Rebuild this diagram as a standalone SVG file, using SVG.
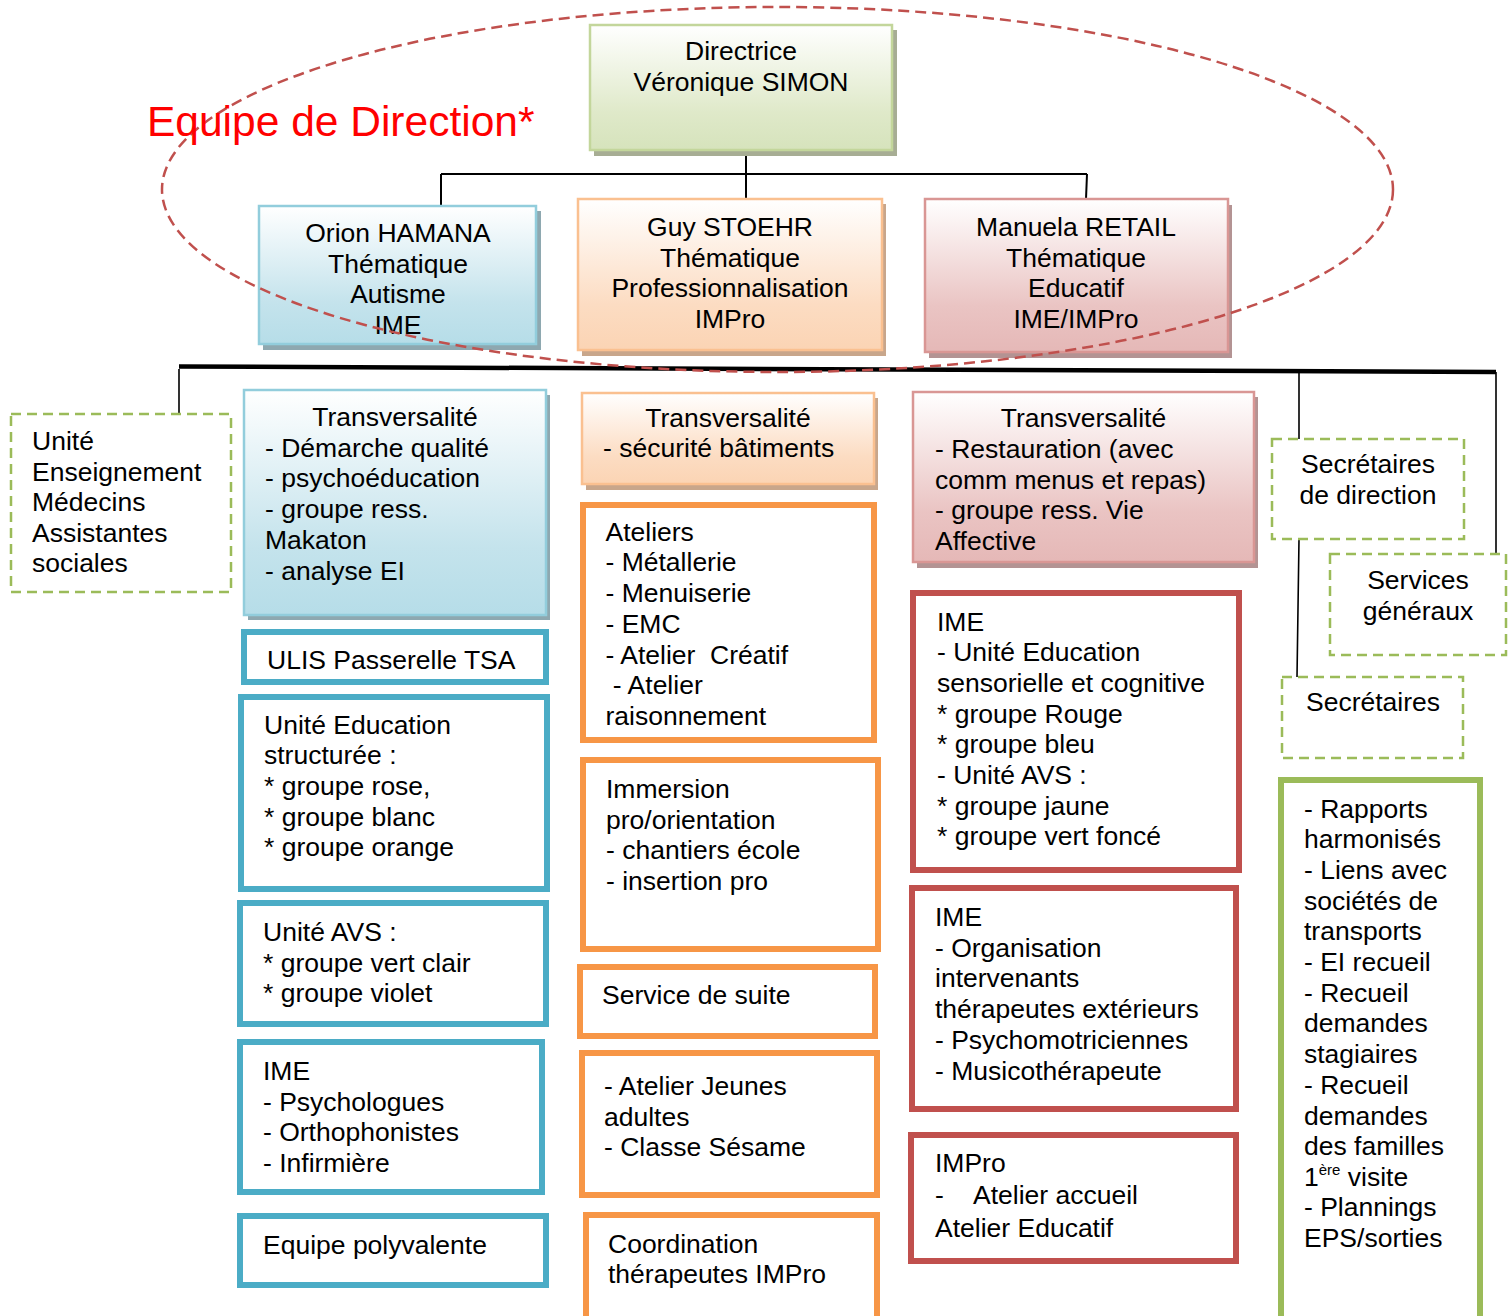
<svg xmlns="http://www.w3.org/2000/svg" width="1509" height="1316" viewBox="0 0 1509 1316">
  <defs>
    <linearGradient id="gGreen" x1="0" y1="0" x2="0" y2="1">
      <stop offset="0" stop-color="#ffffff"/>
      <stop offset="0.7" stop-color="#dfe9c9"/>
      <stop offset="1" stop-color="#d6e3bc"/>
    </linearGradient>
    <linearGradient id="gBlue" x1="0" y1="0" x2="0" y2="1">
      <stop offset="0" stop-color="#ffffff"/>
      <stop offset="0.7" stop-color="#c4e3ec"/>
      <stop offset="1" stop-color="#b6dde8"/>
    </linearGradient>
    <linearGradient id="gOrange" x1="0" y1="0" x2="0" y2="1">
      <stop offset="0" stop-color="#ffffff"/>
      <stop offset="0.7" stop-color="#fcdcc2"/>
      <stop offset="1" stop-color="#fbd4b4"/>
    </linearGradient>
    <linearGradient id="gPink" x1="0" y1="0" x2="0" y2="1">
      <stop offset="0" stop-color="#ffffff"/>
      <stop offset="0.7" stop-color="#eac4c3"/>
      <stop offset="1" stop-color="#e5b8b7"/>
    </linearGradient>
    <style>
      .t { font-family: "Liberation Sans", Arial, sans-serif; font-size: 26.5px; fill: #000; }
      .c { text-anchor: middle; }
      .sup { font-size: 15px; }
      .dash { fill: #fff; stroke: #9bbb59; stroke-width: 2.5; stroke-dasharray: 10 6; }
      .bl { fill: #fff; stroke: #4bacc6; stroke-width: 6; }
      .or { fill: #fff; stroke: #f79646; stroke-width: 6; }
      .rd { fill: #fff; stroke: #c0504d; stroke-width: 6; }
      .gr { fill: #fff; stroke: #9bbb59; stroke-width: 6; }
      .hGreen { fill: url(#gGreen); stroke: #c3d69b; stroke-width: 2.5; }
      .hBlue { fill: url(#gBlue); stroke: #92cddc; stroke-width: 2.5; }
      .hOrange { fill: url(#gOrange); stroke: #fac090; stroke-width: 2.5; }
      .hPink { fill: url(#gPink); stroke: #d99694; stroke-width: 2.5; }
      .shGreen { fill: #a7ad94; }
      .shBlue { fill: #8ea8b0; }
      .shOrange { fill: #c8a68b; }
      .shPink { fill: #b39393; }
      .ln { stroke: #000; stroke-width: 2; fill: none; }
      .thin { stroke: #000; stroke-width: 1.6; fill: none; }
      .thick { stroke: #000; stroke-width: 4.5; fill: none; }
    </style>
  </defs>
  <rect width="1509" height="1316" fill="#ffffff"/>

  <!-- links between the boxes -->
  <g id="connectors">
    <path class="ln" d="M746 150 V174 M441 174 H1087 M441 174 V206 M746 174 V199 M1087 174 L1086 199"/>
    <path class="thick" d="M179 366.5 L1496 372"/>
    <path class="thin" d="M179 369 V414 M1299 372 V439 M1496 372 V554 M1299 539 L1297 677"/>
  </g>

  <!-- management team -->
  <g id="directrice">
    <rect class="shGreen" x="594" y="30" width="303" height="126"/>
    <rect class="hGreen" x="590" y="25" width="302" height="125"/>
    <text class="t c" x="741" y="60">Directrice<tspan x="741" dy="30.7">Véronique SIMON</tspan></text>
  </g>
  <g id="hamana">
    <rect class="shBlue" x="263" y="211" width="278" height="139"/>
    <rect class="hBlue" x="259" y="206" width="277" height="138"/>
    <text class="t c" x="398" y="242">Orion HAMANA<tspan x="398" dy="30.5">Thématique</tspan><tspan x="398" dy="30.5">Autisme</tspan><tspan x="398" dy="30.5">IME</tspan></text>
  </g>
  <g id="stoehr">
    <rect class="shOrange" x="582" y="204" width="304" height="152"/>
    <rect class="hOrange" x="578" y="199" width="304" height="151"/>
    <text class="t c" x="730" y="236">Guy STOEHR<tspan x="730" dy="30.5">Thématique</tspan><tspan x="730" dy="30.5">Professionnalisation</tspan><tspan x="730" dy="30.5">IMPro</tspan></text>
  </g>
  <g id="retail">
    <rect class="shPink" x="929" y="205" width="303" height="153"/>
    <rect class="hPink" x="925" y="199" width="303" height="153"/>
    <text class="t c" x="1076" y="236">Manuela RETAIL<tspan x="1076" dy="30.5">Thématique</tspan><tspan x="1076" dy="30.5">Educatif</tspan><tspan x="1076" dy="30.5">IME/IMPro</tspan></text>
  </g>

  <!-- side services -->
  <g id="unite-enseignement">
    <rect class="dash" x="11" y="414" width="220" height="178"/>
    <text class="t" x="32" y="450">Unité<tspan x="32" dy="30.6">Enseignement</tspan><tspan x="32" dy="30.6">Médecins</tspan><tspan x="32" dy="30.6">Assistantes</tspan><tspan x="32" dy="30.6">sociales</tspan></text>
  </g>
  <g id="secretaires-direction">
    <rect class="dash" x="1272" y="439" width="192" height="100"/>
    <text class="t c" x="1368" y="473">Secrétaires<tspan x="1368" dy="31">de direction</tspan></text>
  </g>
  <g id="services-generaux">
    <rect class="dash" x="1330" y="554" width="176" height="101"/>
    <text class="t c" x="1418" y="589">Services<tspan x="1418" dy="30.5">généraux</tspan></text>
  </g>
  <g id="secretaires">
    <rect class="dash" x="1282" y="677" width="181" height="81"/>
    <text class="t c" x="1373" y="711">Secrétaires</text>
  </g>

  <!-- autism column -->
  <g id="transv-autisme">
    <rect class="shBlue" x="248" y="395" width="302" height="225"/>
    <rect class="hBlue" x="244" y="390" width="302" height="225"/>
    <text class="t c" x="395" y="426">Transversalité</text>
    <text class="t" x="265" y="456.7">- Démarche qualité<tspan x="265" dy="30.7">- psychoéducation</tspan><tspan x="265" dy="30.7">- groupe ress.</tspan><tspan x="265" dy="30.7">Makaton</tspan><tspan x="265" dy="30.7">- analyse EI</tspan></text>
  </g>
  <g id="ulis">
    <rect class="bl" x="244" y="632" width="302" height="50"/>
    <text class="t" x="267" y="669">ULIS Passerelle TSA</text>
  </g>
  <g id="unite-education-structuree">
    <rect class="bl" x="241" y="697" width="306" height="192"/>
    <text class="t" x="264" y="733.5">Unité Education<tspan x="264" dy="30.7">structurée :</tspan><tspan x="264" dy="30.7">* groupe rose,</tspan><tspan x="264" dy="30.7">* groupe blanc</tspan><tspan x="264" dy="30.7">* groupe orange</tspan></text>
  </g>
  <g id="unite-avs">
    <rect class="bl" x="240" y="903" width="306" height="121"/>
    <text class="t" x="263" y="941">Unité AVS :<tspan x="263" dy="30.7">* groupe vert clair</tspan><tspan x="263" dy="30.7">* groupe violet</tspan></text>
  </g>
  <g id="ime-psy">
    <rect class="bl" x="240" y="1042" width="302" height="150"/>
    <text class="t" x="263" y="1080">IME<tspan x="263" dy="30.7">- Psychologues</tspan><tspan x="263" dy="30.7">- Orthophonistes</tspan><tspan x="263" dy="30.7">- Infirmière</tspan></text>
  </g>
  <g id="equipe-polyvalente">
    <rect class="bl" x="240" y="1216" width="306" height="69"/>
    <text class="t" x="263" y="1254">Equipe polyvalente</text>
  </g>

  <!-- vocational column -->
  <g id="transv-pro">
    <rect class="shOrange" x="586" y="398" width="292" height="92"/>
    <rect class="hOrange" x="582" y="393" width="292" height="91"/>
    <text class="t c" x="728" y="426.7">Transversalité</text>
    <text class="t" x="603" y="457.4">- sécurité bâtiments</text>
  </g>
  <g id="ateliers">
    <rect class="or" x="583" y="505" width="291" height="235"/>
    <text class="t" x="605.5" y="540.7">Ateliers<tspan x="605.5" dy="30.7">- Métallerie</tspan><tspan x="605.5" dy="30.7">- Menuiserie</tspan><tspan x="605.5" dy="30.7">- EMC</tspan><tspan x="605.5" dy="30.7" xml:space="preserve">- Atelier  Créatif</tspan><tspan x="605.5" dy="30.7" xml:space="preserve"> - Atelier</tspan><tspan x="605.5" dy="30.7">raisonnement</tspan></text>
  </g>
  <g id="immersion">
    <rect class="or" x="583" y="760" width="295" height="189"/>
    <text class="t" x="606" y="798">Immersion<tspan x="606" dy="30.7">pro/orientation</tspan><tspan x="606" dy="30.7">- chantiers école</tspan><tspan x="606" dy="30.7">- insertion pro</tspan></text>
  </g>
  <g id="service-suite">
    <rect class="or" x="580" y="967" width="295" height="69"/>
    <text class="t" x="602" y="1004">Service de suite</text>
  </g>
  <g id="atelier-jeunes">
    <rect class="or" x="582" y="1053" width="295" height="142"/>
    <text class="t" x="604" y="1095">- Atelier Jeunes<tspan x="604" dy="30.7">adultes</tspan><tspan x="604" dy="30.7">- Classe Sésame</tspan></text>
  </g>
  <g id="coordination">
    <rect class="or" x="586" y="1215" width="291" height="120"/>
    <text class="t" x="608" y="1253.3">Coordination<tspan x="608" dy="30">thérapeutes IMPro</tspan></text>
  </g>

  <!-- educational column -->
  <g id="transv-educatif">
    <rect class="shPink" x="917" y="397" width="341" height="171"/>
    <rect class="hPink" x="913" y="392" width="341" height="170"/>
    <text class="t c" x="1083.5" y="426.7">Transversalité</text>
    <text class="t" x="935" y="458">- Restauration (avec<tspan x="935" dy="30.7">comm menus et repas)</tspan><tspan x="935" dy="30.7">- groupe ress. Vie</tspan><tspan x="935" dy="30.7">Affective</tspan></text>
  </g>
  <g id="ime-unites">
    <rect class="rd" x="913" y="593" width="326" height="277"/>
    <text class="t" x="937" y="630.5">IME<tspan x="937" dy="30.7">- Unité Education</tspan><tspan x="937" dy="30.7">sensorielle et cognitive</tspan><tspan x="937" dy="30.7">* groupe Rouge</tspan><tspan x="937" dy="30.7">* groupe bleu</tspan><tspan x="937" dy="30.7">- Unité AVS :</tspan><tspan x="937" dy="30.7">* groupe jaune</tspan><tspan x="937" dy="30.7">* groupe vert foncé</tspan></text>
  </g>
  <g id="ime-intervenants">
    <rect class="rd" x="912" y="888" width="324" height="221"/>
    <text class="t" x="935" y="926">IME<tspan x="935" dy="30.7">- Organisation</tspan><tspan x="935" dy="30.7">intervenants</tspan><tspan x="935" dy="30.7">thérapeutes extérieurs</tspan><tspan x="935" dy="30.7">- Psychomotriciennes</tspan><tspan x="935" dy="30.7">- Musicothérapeute</tspan></text>
  </g>
  <g id="impro-ateliers">
    <rect class="rd" x="911" y="1135" width="325" height="126"/>
    <text class="t" x="935" y="1171.5">IMPro</text>
    <text class="t" x="935" y="1204">-</text>
    <text class="t" x="973" y="1204">Atelier accueil</text>
    <text class="t" x="935" y="1237">Atelier Educatif</text>
  </g>

  <!-- secretariat tasks -->
  <g id="taches-secretariat">
    <rect class="gr" x="1281" y="780" width="199" height="560"/>
    <text class="t" x="1304" y="817.5">- Rapports<tspan x="1304" dy="30.7">harmonisés</tspan><tspan x="1304" dy="30.7">- Liens avec</tspan><tspan x="1304" dy="30.7">sociétés de</tspan><tspan x="1304" dy="30.7">transports</tspan><tspan x="1304" dy="30.7">- EI recueil</tspan><tspan x="1304" dy="30.7">- Recueil</tspan><tspan x="1304" dy="30.7">demandes</tspan><tspan x="1304" dy="30.7">stagiaires</tspan><tspan x="1304" dy="30.7">- Recueil</tspan><tspan x="1304" dy="30.7">demandes</tspan><tspan x="1304" dy="30.7">des familles</tspan></text>
    <text class="t" x="1304" y="1185.5">1<tspan class="sup" dy="-11">ère</tspan><tspan dy="11"> visite</tspan><tspan x="1304" dy="30.7">- Plannings</tspan><tspan x="1304" dy="30.7">EPS/sorties</tspan></text>
  </g>

  <!-- management team outline and label -->
  <g id="equipe-direction">
    <ellipse cx="777.5" cy="189.5" rx="615.5" ry="182.5" fill="none" stroke="#c0504d" stroke-width="2.5" stroke-dasharray="11 6"/>
    <text x="147" y="136" font-family="'Liberation Sans', Arial, sans-serif" font-size="42.5" fill="#ff0000">Equipe de Direction*</text>
  </g>
</svg>
